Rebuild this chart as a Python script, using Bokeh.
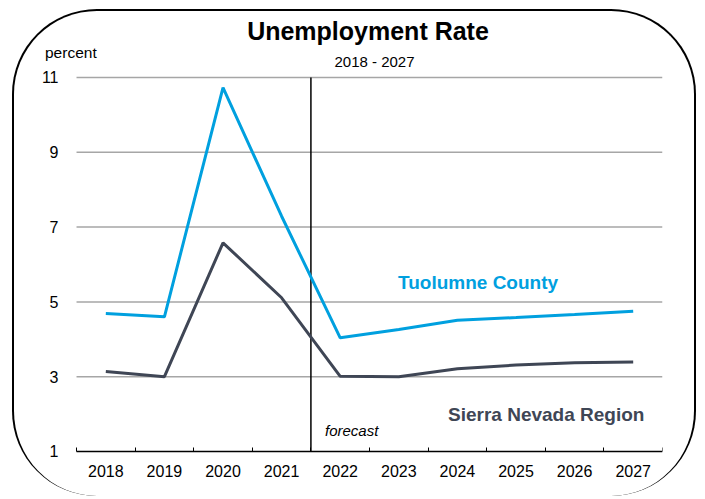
from bokeh.plotting import figure
from bokeh.models import Range1d, FixedTicker, Label
from bokeh.embed import file_html
from bokeh.resources import INLINE

# ---- data ----
years = [2018, 2019, 2020, 2021, 2022, 2023, 2024, 2025, 2026, 2027]
tuolumne = [4.69, 4.60, 10.73, 7.29, 4.04, 4.26, 4.51, 4.58, 4.66, 4.75]
sierra = [3.14, 3.00, 6.58, 5.11, 3.01, 3.00, 3.21, 3.31, 3.37, 3.39]
y_ticks = [1, 3, 5, 7, 9, 11]
forecast_start = 2021.5

FONT = "Liberation Sans"
BLUE = "#00A0DF"
DARK = "#3F4655"
GRID = "#A6A6A6"

# the frame is widened beyond the data area so that titles and axis
# labels can sit inside it
X_LEFT = 2016.544
Y_TOP = 12.684
Y_BOTTOM = 0.0374
x_lo, x_hi = years[0] - 0.5, years[-1] + 0.5

p = figure(width=684, height=487, output_backend="svg", toolbar_location=None,
           min_border_left=6, min_border_right=36, min_border_top=3,
           min_border_bottom=11,
           x_range=Range1d(X_LEFT, x_hi), y_range=Range1d(Y_BOTTOM, Y_TOP))
p.styles = {"border": "2.5px solid black", "border-bottom": "none",
            "border-radius": "85px",
            "margin-left": "12px", "margin-top": "9px"}
p.outline_line_color = None
p.background_fill_color = None
p.border_fill_color = None
p.xgrid.grid_line_color = None
p.ygrid.grid_line_color = None

# x axis, pinned to the bottom of the data area
bounds = [y - 0.5 for y in years] + [x_hi]
p.xaxis.fixed_location = y_ticks[0]
p.xaxis.bounds = (x_lo, x_hi)
p.xaxis.ticker = FixedTicker(ticks=years, minor_ticks=bounds)
p.xaxis.axis_line_color = "black"
p.xaxis.axis_line_width = 1.5
p.xaxis.major_tick_line_color = None
p.xaxis.minor_tick_line_color = "black"
p.xaxis.minor_tick_line_width = 1
p.xaxis.minor_tick_in = 4
p.xaxis.minor_tick_out = 0
p.xaxis.major_label_standoff = 8
p.xaxis.major_label_text_font = FONT
p.xaxis.major_label_text_font_size = "16px"
p.xaxis.major_label_text_color = "black"

# y axis, pinned to the left edge of the data area
p.yaxis.fixed_location = x_lo
p.yaxis.bounds = (y_ticks[0], y_ticks[-1])
p.yaxis.ticker = FixedTicker(ticks=y_ticks)
p.yaxis.axis_line_color = None
p.yaxis.major_tick_line_color = None
p.yaxis.minor_tick_line_color = None
p.yaxis.major_label_standoff = 12
p.yaxis.major_label_text_font = FONT
p.yaxis.major_label_text_font_size = "16px"
p.yaxis.major_label_text_color = "black"

# horizontal gridlines across the data area only
grid_ys = y_ticks[1:]
p.segment(x0=[x_lo] * len(grid_ys), x1=[x_hi] * len(grid_ys),
          y0=grid_ys, y1=grid_ys, line_color=GRID, line_width=1.5)

# forecast divider
p.segment(x0=[forecast_start], x1=[forecast_start],
          y0=[y_ticks[0]], y1=[y_ticks[-1]], line_color="black", line_width=1.5)

# series
p.line(years, tuolumne, line_color=BLUE, line_width=3)
p.line(years, sierra, line_color=DARK, line_width=3)

def lab(x, y, t, size, color="black", style="normal", align="left"):
    p.add_layout(Label(x=x, y=y, text=t, text_font=FONT,
                       text_font_size=size, text_color=color,
                       text_font_style=style, text_align=align,
                       text_baseline="alphabetic"))

lab(2022.474, 12.23, "Unemployment Rate", "25px", style="bold", align="center")
lab(2022.585, 11.42, "2018 - 2027", "15px", align="center")
lab(2016.962, 11.66, "percent", "15.5px")
lab(2021.74, 1.56, "forecast", "15px", style="italic")
lab(2022.986, 5.53, "Tuolumne County", "19px", color=BLUE, style="bold")
lab(2023.84, 2.0, "Sierra Nevada Region", "19px", color=DARK, style="bold")

open("out.html", "w").write(file_html(p, INLINE))
